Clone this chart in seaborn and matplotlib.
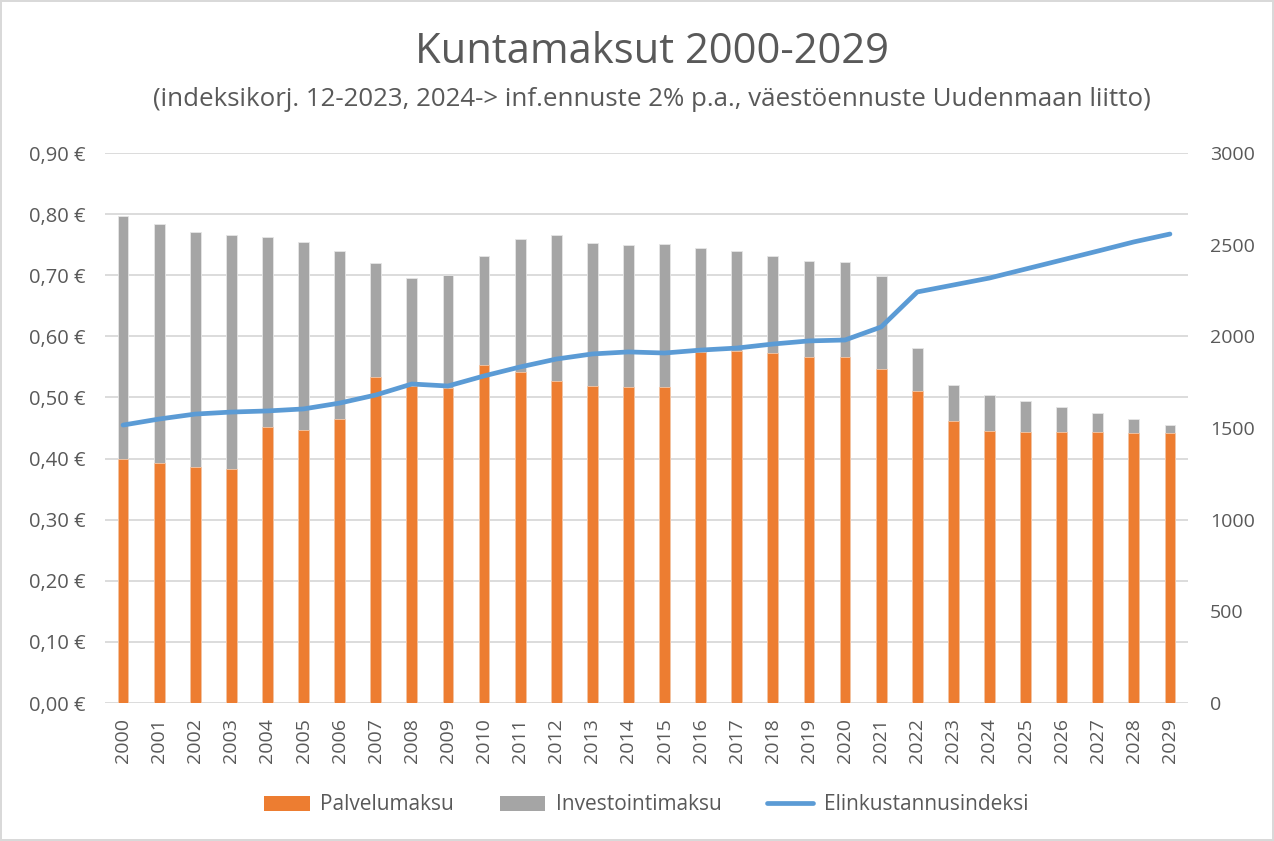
import numpy as np
import pandas as pd
import matplotlib
matplotlib.use("Agg")
import matplotlib.pyplot as plt
import seaborn as sns
from matplotlib.ticker import FuncFormatter, MultipleLocator
from matplotlib.patches import Patch
from matplotlib.lines import Line2D

years = [str(y) for y in range(2000, 2030)]
palvelumaksu = [0.399, 0.393, 0.386, 0.383, 0.452, 0.447, 0.465, 0.533, 0.519, 0.515,
                0.553, 0.542, 0.527, 0.519, 0.517, 0.517, 0.574, 0.576, 0.573, 0.566,
                0.566, 0.547, 0.511, 0.461, 0.445, 0.443, 0.443, 0.443, 0.442, 0.442]
investointimaksu = [0.398, 0.391, 0.385, 0.383, 0.311, 0.307, 0.275, 0.187, 0.176, 0.185,
                    0.178, 0.217, 0.239, 0.234, 0.232, 0.234, 0.171, 0.164, 0.158, 0.157,
                    0.156, 0.152, 0.070, 0.059, 0.059, 0.051, 0.041, 0.032, 0.023, 0.013]
elinkustannusindeksi = [1516, 1549, 1576, 1587, 1593, 1604, 1636, 1680, 1740, 1729,
                        1784, 1833, 1876, 1904, 1915, 1909, 1925, 1936, 1958, 1975,
                        1980, 2051, 2242, 2280, 2318, 2367, 2416, 2465, 2515, 2558]

df = pd.DataFrame({
    "vuosi": years,
    "Palvelumaksu": palvelumaksu,
    "Investointimaksu": investointimaksu,
    "Elinkustannusindeksi": elinkustannusindeksi,
})
df["Yhteensä"] = df["Palvelumaksu"] + df["Investointimaksu"]
df["pos"] = np.arange(len(df))

sns.set_theme(style="white")
plt.rcParams["font.family"] = ["Open Sans", "DejaVu Sans"]

ORANGE = "#ED7D31"
GREY = "#A5A5A5"
BLUE = "#5B9BD5"
TXT = "#595959"

fig = plt.figure(figsize=(12.74, 8.41), dpi=100)
fig.patch.set_edgecolor("#D9D9D9")
fig.patch.set_linewidth(1.5)
ax = fig.add_axes([105/1274, 1-703/841, (1188-105)/1274, (703-153)/841])

sns.barplot(data=df, x="vuosi", y="Yhteensä", color=GREY, width=0.3, ax=ax,
            saturation=1, edgecolor="#E6E6E6", linewidth=0.6, zorder=2)
sns.barplot(data=df, x="vuosi", y="Palvelumaksu", color=ORANGE, width=0.3, ax=ax,
            saturation=1, edgecolor="#F5C6A5", linewidth=0.6, zorder=3)

ax.set_ylim(0, 0.9)
ax.set_xlim(-0.5, len(df) - 0.5)
ax.yaxis.set_major_locator(MultipleLocator(0.1))
ax.yaxis.set_major_formatter(FuncFormatter(lambda v, p: f"{v:.2f} €".replace(".", ",")))
ax.grid(axis="y", color="#D9D9D9", linewidth=1.3, zorder=0)
ax.set_axisbelow(True)
for s in ax.spines.values():
    s.set_visible(False)
ax.set_xlabel("")
ax.set_ylabel("")
ax.tick_params(axis="y", labelsize=14.5, labelcolor=TXT, length=0, pad=14)
ax.tick_params(axis="x", labelsize=14, labelcolor=TXT, length=0, rotation=90, pad=11)

ax2 = ax.twinx()
sns.lineplot(data=df, x="pos", y="Elinkustannusindeksi", color=BLUE, linewidth=3.4,
             ax=ax2, solid_capstyle="round", zorder=4)
ax2.set_ylim(0, 3000)
ax2.set_xlim(-0.5, len(df) - 0.5)
ax2.yaxis.set_major_locator(MultipleLocator(500))
ax2.set_ylabel("")
ax2.set_xlabel("")
for s in ax2.spines.values():
    s.set_visible(False)
ax2.tick_params(axis="y", labelsize=14, labelcolor=TXT, length=0, pad=16)
ax2.grid(False)

fig.text(652/1274, 1 - 52/841, "Kuntamaksut 2000-2029", ha="center", va="center",
         fontsize=30.1, color=TXT)
fig.text(652/1274, 1 - 100/841,
         "(indeksikorj. 12-2023, 2024-> inf.ennuste 2% p.a., väestöennuste Uudenmaan liitto)",
         ha="center", va="center", fontsize=18.6, color=TXT)

handles = [Patch(facecolor=ORANGE, edgecolor="none"),
           Patch(facecolor=GREY, edgecolor="none"),
           Line2D([0], [0], color=BLUE, linewidth=3.4, solid_capstyle="round")]
fig.legend(handles, ["Palvelumaksu", "Investointimaksu", "Elinkustannusindeksi"],
           loc="center", bbox_to_anchor=(646/1274, 1 - 805/841), ncol=3, frameon=False,
           fontsize=15, labelcolor=TXT, handlelength=2.2, columnspacing=2.2,
           handletextpad=0.5)

fig.savefig("out.png", dpi=100)
